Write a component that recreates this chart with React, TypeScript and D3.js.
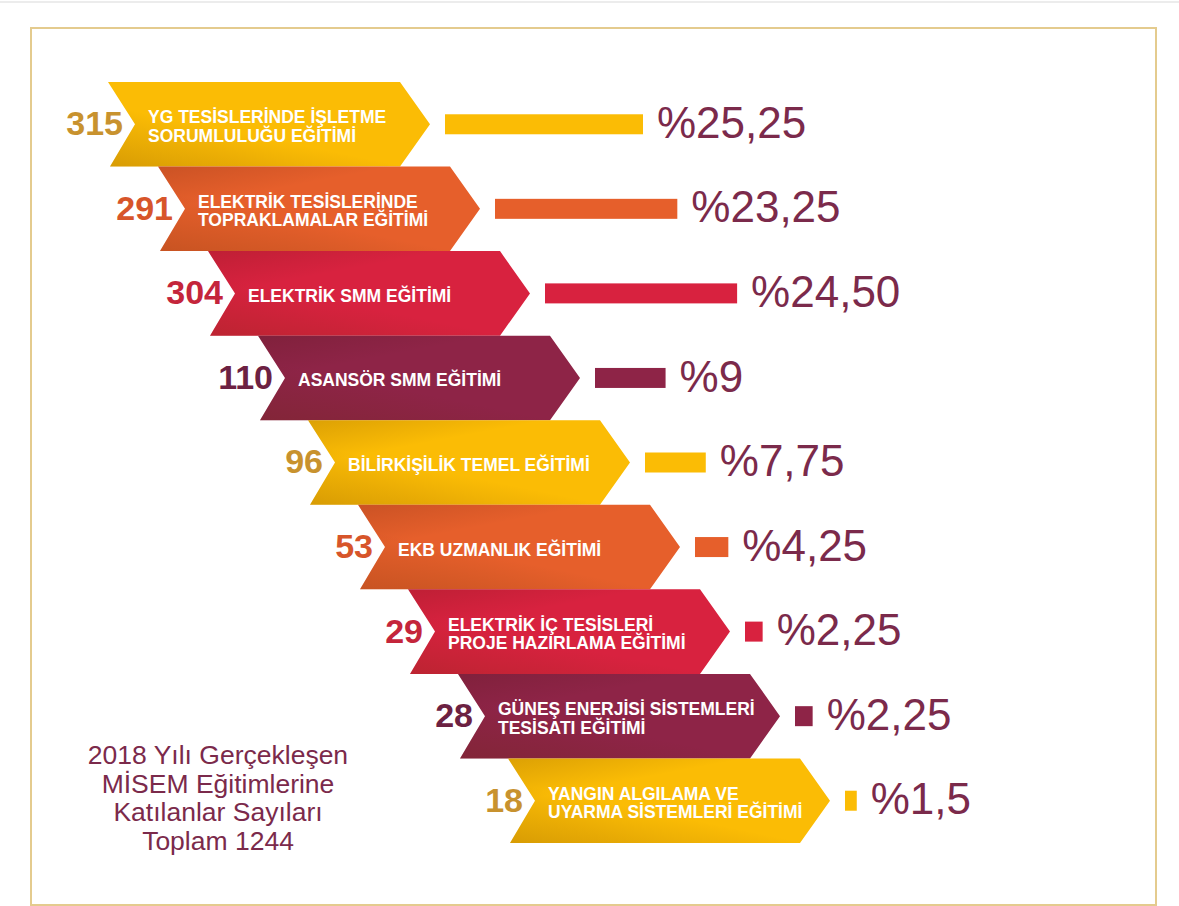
import React from 'react'
import * as d3 from 'd3'

// values
const counts = [315, 291, 304, 110, 96, 53, 29, 28, 18]
const percents = [25.25, 23.25, 24.5, 9, 7.75, 4.25, 2.25, 2.25, 1.5]
const percentLabels = ['%25,25', '%23,25', '%24,50', '%9', '%7,75', '%4,25', '%2,25', '%2,25', '%1,5']
const courses = [
  ['YG TESİSLERİNDE İŞLETME', 'SORUMLULUĞU EĞİTİMİ'],
  ['ELEKTRİK TESİSLERİNDE', 'TOPRAKLAMALAR EĞİTİMİ'],
  ['ELEKTRİK SMM EĞİTİMİ'],
  ['ASANSÖR SMM EĞİTİMİ'],
  ['BİLİRKİŞİLİK TEMEL EĞİTİMİ'],
  ['EKB UZMANLIK EĞİTİMİ'],
  ['ELEKTRİK İÇ TESİSLERİ', 'PROJE HAZIRLAMA EĞİTİMİ'],
  ['GÜNEŞ ENERJİSİ SİSTEMLERİ', 'TESİSATI EĞİTİMİ'],
  ['YANGIN ALGILAMA VE', 'UYARMA SİSTEMLERİ EĞİTİMİ'],
]
const titleLines = ['2018 Yılı Gerçekleşen', 'MİSEM Eğitimlerine', 'Katılanlar Sayıları', 'Toplam 1244']

const bandColors = ['#fbbc05', '#e65f2b', '#d8223f', '#8e2447']
const numColors = ['#c8922e', '#d7552a', '#c4253b', '#6c2142']
const textColor = '#7b2a4b'

const W = 1179
const H = 906
const font = '"Liberation Sans", Arial, sans-serif'

export default function App() {
  const idx = d3.range(counts.length)
  const y = d3.scaleBand<number>().domain(idx).range([82, 843]).paddingInner(0)
  const left = d3.scaleLinear().domain([0, counts.length - 1]).range([108, 508])
  const barLen = d3.scaleLinear().domain([0, 25.25]).range([0, 198])
  const bh = y.bandwidth()
  const notch = 27
  const tipLen = 30
  const bandW = 322

  const bandPath = (i: number) => {
    const x0 = left(i)
    const y0 = y(i)!
    const path = d3.path()
    path.moveTo(x0, y0)
    path.lineTo(x0 + bandW - tipLen, y0)
    path.lineTo(x0 + bandW, y0 + bh / 2)
    path.lineTo(x0 + bandW - tipLen, y0 + bh)
    path.lineTo(x0 + 2, y0 + bh)
    path.lineTo(x0 + notch, y0 + bh / 2)
    path.closePath()
    return path.toString()
  }

  return (
    <svg width={W} height={H} style={{ position: 'absolute', left: 0, top: 0, background: '#fff' }}>
      <defs>
        <linearGradient id="shade" x1="0" y1="1" x2="0.35" y2="0.55">
          <stop offset="0" stopColor="#5a2a00" stopOpacity={0.22} />
          <stop offset="1" stopColor="#5a2a00" stopOpacity={0} />
        </linearGradient>
        <linearGradient id="shadeTop" x1="0" y1="0" x2="0.25" y2="0.35">
          <stop offset="0" stopColor="#3a1000" stopOpacity={0.16} />
          <stop offset="1" stopColor="#3a1000" stopOpacity={0} />
        </linearGradient>
      </defs>
      <line x1={0} x2={W} y1={2} y2={2} stroke="#e6e6e6" strokeWidth={1.5} />
      <rect x={31} y={28} width={1125} height={877} fill="none" stroke="#e4cb8e" strokeWidth={2} />

      {idx.map((i) => {
        const x0 = left(i)
        const mid = y(i)! + bh / 2
        const c = i % 4
        const lines = courses[i]
        const barX = x0 + bandW + 15
        const len = barLen(percents[i])
        return (
          <g key={i}>
            <path d={bandPath(i)} fill={bandColors[c]} />
            <path d={bandPath(i)} fill="url(#shade)" />
            {i > 0 && <path d={bandPath(i)} fill="url(#shadeTop)" />}
            <text x={x0 + 15} y={mid + 2} textAnchor="end" dominantBaseline="middle"
              fontFamily={font} fontWeight="bold" fontSize={34} fill={numColors[c]}>
              {counts[i]}
            </text>
            {lines.map((t, j) => (
              <text key={j} x={x0 + 40}
                y={lines.length === 1 ? mid + 8.5 : mid - 1 + j * 18.5}
                fontFamily={font} fontWeight="bold"
                fontSize={17.5} fill="#fff">
                {t}
              </text>
            ))}
            <rect x={barX} y={mid - 10} width={len} height={20} fill={bandColors[c]} />
            <text x={barX + len + 14} y={mid + 2} dominantBaseline="middle"
              fontFamily={font} fontSize={44} fill={textColor}>
              {percentLabels[i]}
            </text>
          </g>
        )
      })}

      {titleLines.map((t, j) => (
        <text key={j} x={218} y={757 + j * 28.5} textAnchor="middle" dominantBaseline="middle"
          fontFamily={font} fontSize={26.5} fill={textColor}>
          {t}
        </text>
      ))}
    </svg>
  )
}
